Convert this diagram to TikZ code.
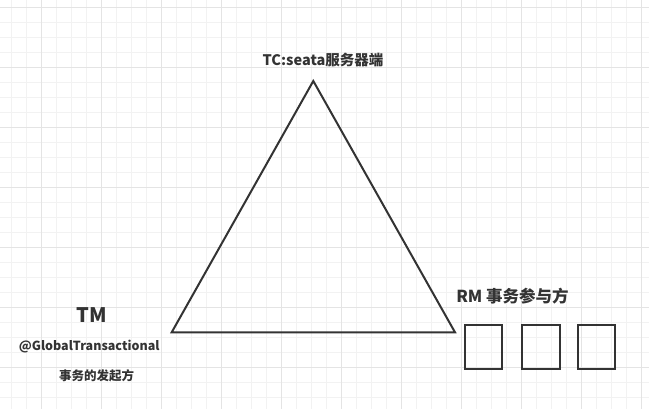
\documentclass[tikz,border=0pt]{standalone}
\usepackage{fontspec}
\setmainfont{Noto Sans CJK SC}
\definecolor{ink}{HTML}{333333}
\definecolor{gridminor}{HTML}{F2F2F2}
\definecolor{gridmajor}{HTML}{E4E4E4}
\tikzset{
  lbl/.style={text=ink, inner sep=0pt, font=\bfseries\fontsize{#1}{#1}\selectfont},
  rmbox/.style={draw=ink, line width=2pt, minimum width=37.5pt, minimum height=44.5pt, inner sep=0pt},
}

\begin{document}
\begin{tikzpicture}[x=1pt,y=-1pt]
	\useasboundingbox (0,0) rectangle (649,409);
	% grid
	\foreach \gx in {11.5,26.5,...,649} \draw[gridminor] (\gx,0) -- (\gx,409);
	\foreach \gy in {7.3,22.3,...,409} \draw[gridminor] (0,\gy) -- (649,\gy);
	\foreach \gx in {41.5,101.5,...,649} \draw[gridmajor] (\gx,0) -- (\gx,409);
	\foreach \gy in {7.3,67.3,...,409} \draw[gridmajor] (0,\gy) -- (649,\gy);

	% TC triangle
	\draw[ink, line width=2pt, line join=miter] (313.3,81) -- (455,332.3) -- (171.7,332.3) -- cycle;
	\node[lbl=14.5] (tc) at (323,60) {TC:seata服务器端};

	% TM
	\node[lbl=20] (tm) at (91.7,315) {TM};
	\node[lbl=12.5] (anno) at (89.2,347) {@GlobalTransactional};
	\node[lbl=12.5] (tmdesc) at (96.7,375.5) {事务的发起方};

	% RM
	\node[lbl=16.5] (rm) at (512.5,296.5) {RM 事务参与方};
	\node[rmbox] (rma) at (483.4,346.8) {};
	\node[rmbox] (rmb) at (541.2,346.8) {};
	\node[rmbox] (rmc) at (596.5,346.8) {};
\end{tikzpicture}
\end{document}
